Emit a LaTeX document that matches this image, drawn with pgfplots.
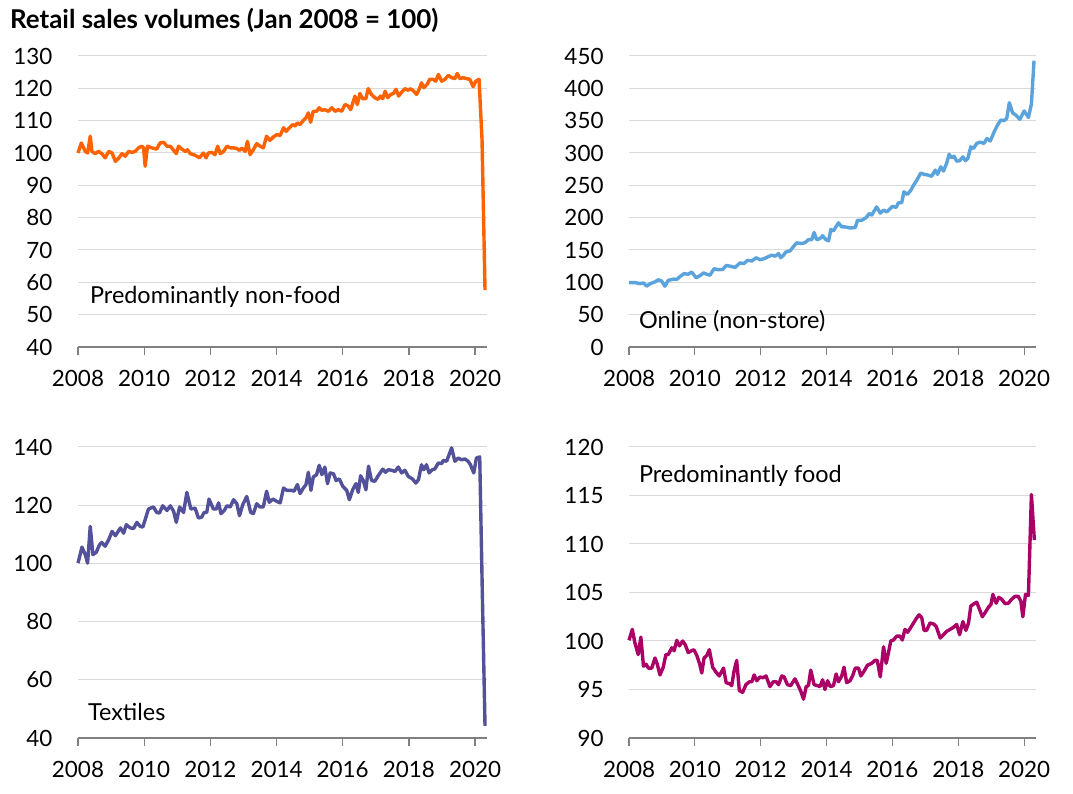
\documentclass[border=0pt]{standalone}
\usepackage{pgfplots}
\pgfplotsset{compat=1.18}
\usepackage{fontspec}
\setmainfont{Lato}
\definecolor{ingorange}{HTML}{FF6200}
\definecolor{ingblue}{HTML}{5BA3DC}
\definecolor{ingindigo}{HTML}{525199}
\definecolor{ingmagenta}{HTML}{AB0066}
\definecolor{gridgray}{HTML}{D9D9D9}
\definecolor{axgray}{HTML}{808080}
\pgfplotsset{
  panel/.style={
    scale only axis, width=409bp, height=291bp,
    xmin=2008, xmax=2020.36,
    axis x line*=bottom, axis y line*=left,
    x axis line style={axgray, line width=1.2bp, -},
    y axis line style={draw=none},
    xtick={2008,2010,...,2020},
    xticklabels={2008,2010,2012,2014,2016,2018,2020},
    xtick style={axgray, line width=1.2bp},
    tick align=outside, major tick length=8bp,
    ymajorgrids, grid style={gridgray, line width=1bp},
    ytick style={draw=none},
    tick label style={font=\fontsize{22.5}{25}\selectfont, black},
    /pgf/number format/assume math mode=true,
    /pgf/number format/1000 sep={},
    xticklabel style={yshift=-12bp},
    yticklabel style={xshift=-14bp},
    clip=false,
  },
  series/.style={line width=3.4bp, line join=round, #1},
}
\begin{document}
\begin{tikzpicture}
\path[use as bounding box] (0,0) rectangle (1073bp,794bp);
\node[anchor=west, inner sep=0pt, font=\fontsize{26}{29}\selectfont\bfseries] at (10bp,774bp) {Retail sales volumes (Jan 2008 = 100)};

% Top-left: predominantly non-food
\begin{axis}[panel, at={(78bp,447bp)}, anchor=south west,
  ymin=40, ymax=130, ytick={40,50,...,130}]
\addplot[series=ingorange] coordinates {
(2008.00,100.0)(2008.10,103.1)(2008.22,100.5)(2008.29,100.0)(2008.37,105.2)(2008.42,100.5)
(2008.52,99.8)(2008.62,100.5)(2008.72,99.8)(2008.82,98.5)(2008.93,100.5)(2009.03,100.0)
(2009.13,97.4)(2009.23,98.4)(2009.33,99.8)(2009.43,99.0)(2009.53,100.5)(2009.63,100.2)
(2009.73,100.5)(2009.83,101.6)(2009.93,102.1)(2009.98,101.6)(2010.03,95.9)(2010.10,102.1)
(2010.23,101.6)(2010.38,101.2)(2010.48,103.1)(2010.59,103.3)(2010.69,102.1)(2010.79,102.1)
(2010.89,100.8)(2010.97,99.8)(2011.04,102.1)(2011.14,101.2)(2011.24,100.5)(2011.31,101.0)
(2011.39,99.8)(2011.49,99.5)(2011.59,99.0)(2011.67,98.5)(2011.79,100.0)(2011.87,98.5)
(2011.94,100.0)(2012.04,100.2)(2012.14,99.5)(2012.22,102.1)(2012.30,99.8)(2012.40,100.5)
(2012.50,102.1)(2012.60,101.6)(2012.70,101.6)(2012.80,101.4)(2012.88,100.8)(2012.95,101.5)
(2013.05,100.5)(2013.12,103.6)(2013.20,99.5)(2013.30,101.0)(2013.40,102.9)(2013.50,102.1)
(2013.60,101.6)(2013.70,105.2)(2013.80,103.9)(2013.91,105.0)(2014.01,105.7)(2014.11,105.4)
(2014.21,107.8)(2014.29,106.7)(2014.39,107.8)(2014.49,108.8)(2014.56,108.3)(2014.63,109.3)
(2014.71,108.8)(2014.81,110.1)(2014.89,110.9)(2014.96,112.4)(2015.03,109.5)(2015.11,112.9)
(2015.21,112.9)(2015.29,114.0)(2015.37,113.2)(2015.46,113.4)(2015.57,112.9)(2015.67,114.0)
(2015.77,112.9)(2015.87,113.4)(2015.97,112.9)(2016.07,115.0)(2016.17,114.5)(2016.24,113.4)
(2016.32,116.0)(2016.37,117.6)(2016.44,115.0)(2016.52,118.4)(2016.60,116.8)(2016.70,116.8)
(2016.77,119.9)(2016.87,118.1)(2016.97,117.1)(2017.07,116.6)(2017.14,117.6)(2017.21,116.8)
(2017.28,119.1)(2017.36,117.1)(2017.45,118.1)(2017.53,118.4)(2017.61,119.7)(2017.69,117.6)
(2017.78,118.8)(2017.88,119.9)(2017.98,119.4)(2018.05,119.9)(2018.15,119.1)(2018.23,118.1)
(2018.31,119.7)(2018.38,121.7)(2018.45,120.2)(2018.55,121.2)(2018.63,122.8)(2018.73,122.8)
(2018.81,122.2)(2018.89,124.3)(2018.99,122.2)(2019.09,122.8)(2019.19,124.0)(2019.29,123.3)
(2019.39,123.0)(2019.46,124.6)(2019.54,123.0)(2019.64,123.3)(2019.74,123.0)(2019.84,122.8)
(2019.94,120.5)(2020.02,122.2)(2020.12,122.8)(2020.21,104.0)(2020.30,57.6)
};
\node[anchor=west, inner sep=0pt, font=\fontsize{23.5}{26}\selectfont] at (axis cs:2008.36,55.5) {Predominantly non-food};
\end{axis}

% Top-right: online
\begin{axis}[panel, at={(629bp,447bp)}, anchor=south west, width=407bp,
  ymin=0, ymax=450, ytick={0,50,...,450}]
\addplot[series=ingblue] coordinates {
(2008.00,99.6)(2008.18,99.6)(2008.33,98.0)(2008.44,99.0)(2008.54,94.0)(2008.64,98.0)
(2008.79,100.6)(2008.89,104.0)(2008.99,102.0)(2009.09,94.0)(2009.19,103.0)(2009.35,105.0)
(2009.45,104.5)(2009.55,109.0)(2009.67,113.5)(2009.80,112.5)(2009.90,116.0)(2010.04,107.0)
(2010.16,110.5)(2010.26,114.5)(2010.36,112.5)(2010.46,111.0)(2010.58,121.0)(2010.71,119.5)
(2010.85,120.0)(2010.95,126.0)(2011.07,125.0)(2011.22,123.0)(2011.37,130.0)(2011.49,129.0)
(2011.60,134.0)(2011.73,133.0)(2011.86,138.0)(2011.98,135.0)(2012.10,136.5)(2012.20,139.0)
(2012.33,142.0)(2012.44,140.5)(2012.54,144.5)(2012.61,138.0)(2012.69,142.0)(2012.77,147.0)
(2012.89,148.6)(2012.99,155.0)(2013.09,161.0)(2013.25,160.0)(2013.35,161.5)(2013.45,166.0)
(2013.55,166.0)(2013.62,177.0)(2013.70,166.0)(2013.80,167.7)(2013.88,172.0)(2013.98,166.0)
(2014.06,164.0)(2014.13,182.0)(2014.21,179.6)(2014.36,192.0)(2014.46,185.8)(2014.56,185.8)
(2014.71,184.0)(2014.87,184.7)(2014.94,196.0)(2015.07,196.0)(2015.20,200.0)(2015.30,206.4)
(2015.37,204.0)(2015.52,216.7)(2015.63,207.0)(2015.73,211.6)(2015.83,209.0)(2015.93,214.0)
(2016.01,217.7)(2016.11,215.7)(2016.18,223.0)(2016.28,223.0)(2016.35,240.0)(2016.46,236.0)
(2016.56,242.5)(2016.64,250.0)(2016.74,258.0)(2016.86,269.0)(2016.96,267.0)(2017.09,265.7)
(2017.19,264.0)(2017.30,273.5)(2017.37,267.0)(2017.47,278.6)(2017.55,272.0)(2017.65,284.8)
(2017.72,298.0)(2017.80,292.6)(2017.87,295.0)(2017.95,287.4)(2018.04,288.0)(2018.14,294.0)
(2018.22,288.0)(2018.29,291.5)(2018.38,309.6)(2018.46,307.0)(2018.56,314.8)(2018.66,316.8)
(2018.78,314.8)(2018.87,322.5)(2018.97,318.4)(2019.09,332.8)(2019.19,343.0)(2019.29,351.0)
(2019.39,350.0)(2019.47,353.5)(2019.55,377.7)(2019.65,362.0)(2019.75,358.6)(2019.87,352.0)
(2020.00,365.0)(2020.13,355.0)(2020.22,375.6)(2020.30,442.7)
};
\node[anchor=west, inner sep=0pt, font=\fontsize{23.5}{26}\selectfont] at (axis cs:2008.30,40) {Online (non-store)};
\end{axis}

% Bottom-left: textiles
\begin{axis}[panel, at={(78bp,56bp)}, anchor=south west,
  ymin=40, ymax=140, ytick={40,60,...,140}]
\addplot[series=ingindigo] coordinates {
(2008.00,100.1)(2008.12,105.6)(2008.22,103.0)(2008.29,100.1)(2008.37,112.7)(2008.45,103.0)
(2008.55,103.8)(2008.65,106.4)(2008.72,107.2)(2008.82,105.9)(2008.93,108.2)(2009.03,111.0)
(2009.13,109.5)(2009.28,112.2)(2009.38,110.4)(2009.46,113.3)(2009.58,112.2)(2009.68,112.0)
(2009.78,114.1)(2009.88,112.7)(2009.96,112.5)(2010.13,118.7)(2010.28,119.4)(2010.38,117.5)
(2010.46,117.3)(2010.56,119.8)(2010.69,118.2)(2010.79,119.8)(2010.89,117.9)(2010.97,114.1)
(2011.07,119.4)(2011.19,117.5)(2011.29,124.4)(2011.41,118.7)(2011.54,119.0)(2011.64,115.6)
(2011.74,115.9)(2011.81,117.5)(2011.89,117.5)(2011.96,122.1)(2012.09,118.7)(2012.18,118.7)
(2012.25,120.8)(2012.32,117.1)(2012.42,118.2)(2012.50,119.8)(2012.60,119.4)(2012.70,121.9)
(2012.80,120.5)(2012.88,116.4)(2012.98,120.2)(2013.10,123.0)(2013.22,117.5)(2013.30,117.1)
(2013.40,120.5)(2013.50,119.4)(2013.60,119.4)(2013.70,124.8)(2013.78,121.0)(2013.89,122.1)
(2014.01,121.3)(2014.11,120.8)(2014.21,125.9)(2014.31,125.1)(2014.46,125.1)(2014.53,124.8)
(2014.63,127.1)(2014.71,124.0)(2014.81,125.9)(2014.89,127.1)(2014.96,131.3)(2015.04,125.1)
(2015.11,129.7)(2015.21,130.5)(2015.29,133.7)(2015.37,130.5)(2015.46,133.1)(2015.54,127.4)
(2015.62,131.1)(2015.72,130.8)(2015.80,128.5)(2015.90,129.0)(2016.00,126.5)(2016.12,125.1)
(2016.20,121.9)(2016.30,125.3)(2016.40,127.4)(2016.47,124.4)(2016.54,130.1)(2016.62,128.5)
(2016.70,125.3)(2016.78,133.4)(2016.87,128.5)(2016.97,128.2)(2017.07,130.1)(2017.21,132.4)
(2017.29,131.3)(2017.38,132.2)(2017.48,132.0)(2017.58,131.6)(2017.68,133.1)(2017.78,131.1)
(2017.88,132.0)(2017.98,129.9)(2018.11,129.0)(2018.21,127.6)(2018.29,128.8)(2018.38,133.9)
(2018.45,132.2)(2018.53,133.9)(2018.61,131.1)(2018.71,132.2)(2018.78,132.4)(2018.89,134.5)
(2018.99,134.3)(2019.04,135.4)(2019.14,135.1)(2019.29,139.7)(2019.39,135.1)(2019.49,136.2)
(2019.59,135.6)(2019.69,135.9)(2019.79,135.1)(2019.86,133.9)(2019.96,131.1)(2020.04,136.2)
(2020.14,136.6)(2020.22,89.0)(2020.30,44.2)
};
\node[anchor=west, inner sep=0pt, font=\fontsize{23.5}{26}\selectfont] at (axis cs:2008.30,49) {Textiles};
\end{axis}

% Bottom-right: food
\begin{axis}[panel, at={(629bp,56bp)}, anchor=south west, width=407bp,
  ymin=90, ymax=120, ytick={90,95,...,120}]
\addplot[series=ingmagenta] coordinates {
(2008.00,100.07)(2008.10,101.2)(2008.18,99.8)(2008.28,98.6)(2008.36,100.4)(2008.44,97.4)
(2008.52,97.6)(2008.59,97.2)(2008.69,97.2)(2008.79,98.25)(2008.86,97.6)(2008.94,96.5)
(2009.04,97.3)(2009.12,98.6)(2009.19,98.6)(2009.30,99.3)(2009.37,99.0)(2009.45,100.07)
(2009.53,99.5)(2009.63,100.0)(2009.71,99.6)(2009.80,98.8)(2009.90,99.0)(2009.97,99.1)
(2010.06,98.5)(2010.14,97.7)(2010.21,96.7)(2010.28,98.25)(2010.36,98.5)(2010.44,99.1)
(2010.54,97.3)(2010.64,96.8)(2010.74,96.4)(2010.87,97.2)(2010.95,95.7)(2011.05,95.6)
(2011.12,95.4)(2011.19,96.9)(2011.27,98.0)(2011.35,94.9)(2011.45,94.7)(2011.55,95.5)
(2011.66,95.8)(2011.73,95.8)(2011.80,96.5)(2011.88,95.9)(2011.98,96.3)(2012.06,96.2)
(2012.16,96.4)(2012.28,95.3)(2012.38,95.8)(2012.47,95.8)(2012.54,95.5)(2012.64,96.4)
(2012.71,96.3)(2012.81,95.5)(2012.91,95.4)(2013.04,96.1)(2013.14,95.4)(2013.22,94.8)
(2013.30,94.0)(2013.38,95.3)(2013.45,95.4)(2013.52,97.0)(2013.62,95.5)(2013.72,95.4)
(2013.80,95.3)(2013.88,96.0)(2013.95,95.0)(2014.03,95.9)(2014.11,95.3)(2014.21,95.4)
(2014.29,96.6)(2014.36,95.8)(2014.46,96.4)(2014.53,97.3)(2014.61,95.7)(2014.71,95.9)
(2014.79,96.4)(2014.87,97.2)(2014.97,97.2)(2015.04,96.4)(2015.14,96.9)(2015.24,97.5)
(2015.37,97.7)(2015.47,98.0)(2015.54,98.0)(2015.63,96.3)(2015.73,99.4)(2015.81,97.7)
(2015.88,98.8)(2015.95,100.0)(2016.03,100.1)(2016.13,100.5)(2016.23,100.5)(2016.30,100.1)
(2016.38,101.2)(2016.46,100.9)(2016.54,101.3)(2016.64,101.85)(2016.74,102.4)(2016.81,102.7)
(2016.89,102.4)(2016.96,101.1)(2017.04,101.1)(2017.14,101.85)(2017.25,101.75)(2017.33,101.5)
(2017.45,100.3)(2017.55,100.65)(2017.65,101.0)(2017.75,101.2)(2017.85,101.4)(2017.95,101.7)
(2018.04,100.65)(2018.14,102.0)(2018.23,101.1)(2018.31,101.85)(2018.38,103.6)(2018.48,103.85)
(2018.56,104.0)(2018.64,103.3)(2018.73,102.5)(2018.82,102.95)(2018.92,103.5)(2018.99,103.75)
(2019.05,104.8)(2019.15,103.9)(2019.23,104.5)(2019.32,104.3)(2019.42,103.85)(2019.52,103.9)
(2019.62,104.3)(2019.72,104.6)(2019.82,104.6)(2019.90,104.1)(2019.96,102.5)(2020.04,104.8)
(2020.13,104.7)(2020.22,115.1)(2020.31,110.4)
};
\node[anchor=west, inner sep=0pt, font=\fontsize{23.5}{26}\selectfont] at (axis cs:2008.30,117.0) {Predominantly food};
\end{axis}
\end{tikzpicture}
\end{document}
